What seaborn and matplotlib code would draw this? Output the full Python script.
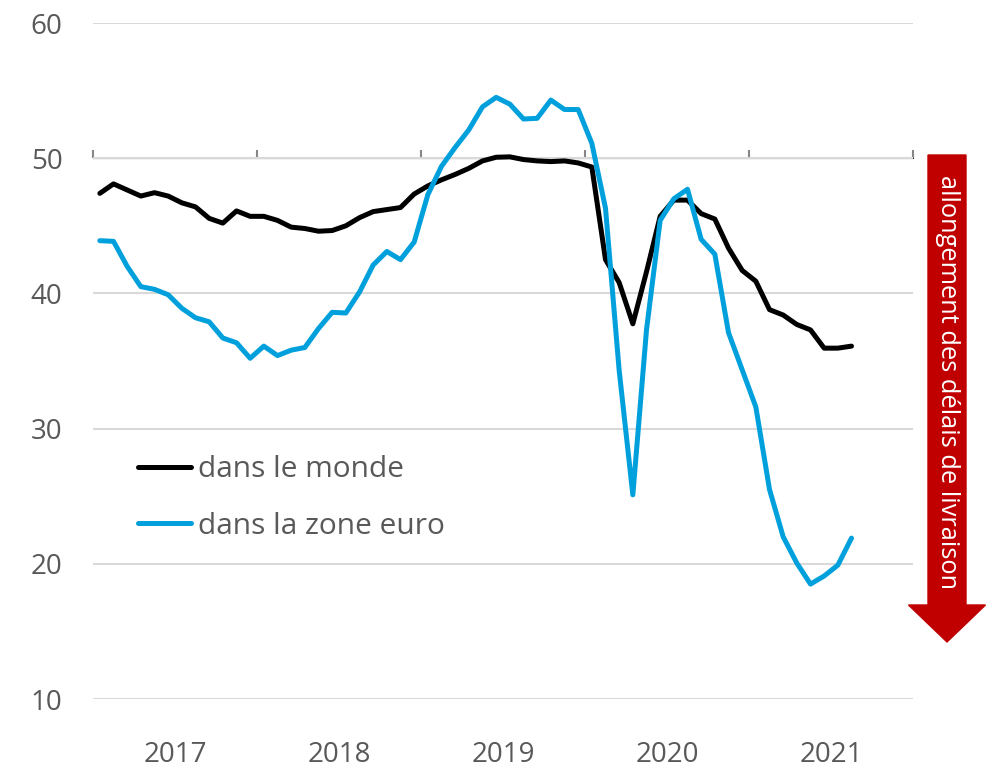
import pandas as pd
import matplotlib
matplotlib.use("Agg")
import matplotlib.pyplot as plt
import matplotlib.patches as mpatches
import seaborn as sns

# monthly series, Jan 2017 - Aug 2021
months = pd.date_range("2017-01-01", periods=56, freq="MS")

monde = [47.4, 48.1, 47.65, 47.2, 47.45, 47.2, 46.7, 46.4, 45.55, 45.2,
         46.1, 45.7, 45.7, 45.4, 44.9, 44.8, 44.6, 44.65, 45.0, 45.6,
         46.05, 46.2, 46.35, 47.35, 47.95, 48.4, 48.8, 49.25, 49.8, 50.07,
         50.1, 49.9, 49.8, 49.75, 49.8, 49.65, 49.35, 42.5, 40.8, 37.75,
         41.6, 45.7, 46.9, 46.9, 45.9, 45.5, 43.35, 41.7, 40.9, 38.8,
         38.4, 37.7, 37.3, 35.95, 35.95, 36.1]

zone_euro = [43.9, 43.85, 42.0, 40.5, 40.3, 39.9, 38.9, 38.2, 37.9, 36.7,
             36.35, 35.2, 36.1, 35.4, 35.8, 36.0, 37.4, 38.6, 38.55, 40.1,
             42.1, 43.1, 42.5, 43.8, 47.3, 49.4, 50.8, 52.1, 53.8, 54.5,
             54.0, 52.9, 52.95, 54.3, 53.6, 53.6, 51.1, 46.3, 34.3, 25.1,
             37.3, 45.4, 47.0, 47.7, 44.0, 42.9, 37.1, 34.35, 31.6, 25.5,
             22.0, 20.05, 18.5, 19.1, 19.9, 21.9]

series_names = ["dans le monde", "dans la zone euro"]
colors = ["#000000", "#00A0DC"]
years = [2017, 2018, 2019, 2020, 2021]
arrow_label = "allongement des délais de livraison"

# decimal year, points sit in the middle of each month
xpos = months.year + (months.month - 0.5) / 12

df = pd.concat([
    pd.DataFrame({"x": xpos, "val": monde, "serie": series_names[0]}),
    pd.DataFrame({"x": xpos, "val": zone_euro, "serie": series_names[1]}),
])

sns.set_style("white")
plt.rcParams["font.family"] = ["Open Sans", "DejaVu Sans"]
grey = "#595959"

fig = plt.figure(figsize=(9.95, 7.68), dpi=100)
ax = fig.add_axes([93 / 995, 69 / 768, 820 / 995, 676 / 768])

sns.lineplot(data=df, x="x", y="val", hue="serie", palette=colors,
             linewidth=3.6, ax=ax)

ax.set_xlim(years[0], years[-1] + 1)
ax.set_ylim(10, 60)
ax.set_yticks([10, 20, 30, 40, 50, 60])
ax.yaxis.grid(True, color="#D9D9D9", linewidth=1.5)
ax.set_axisbelow(True)
for s in ax.spines.values():
    s.set_visible(False)
ax.tick_params(axis="y", length=0, pad=22, labelsize=20, labelcolor=grey)

# year labels centred between the year boundaries
ax.set_xticks([y + 0.5 for y in years])
ax.set_xticklabels([str(y) for y in years])
ax.tick_params(axis="x", length=0, pad=30, labelsize=20, labelcolor=grey)
ax.set_xlabel("")
ax.set_ylabel("")

# category axis crossing at 50
sec = ax.secondary_xaxis(0.8)
sec.set_xticks(years + [years[-1] + 1])
sec.set_xticklabels([])
sec.spines["bottom"].set_color("#868686")
sec.spines["bottom"].set_linewidth(1.8)
sec.tick_params(axis="x", direction="out", length=6, width=1.5, color="#868686")

handles, labels = ax.get_legend_handles_labels()
ax.legend(handles, labels, loc="upper left", bbox_to_anchor=(0.022, 0.40),
          frameon=False, fontsize=21.5, labelcolor=grey, handlelength=1.77,
          handletextpad=0.25, labelspacing=0.92)

# red arrow on the right
arrow = mpatches.FancyArrow(9.47, 6.13, 0, -4.87, width=0.38, head_width=0.77,
                            head_length=0.37, length_includes_head=True,
                            color="#C00000", transform=fig.dpi_scale_trans)
fig.patches.append(arrow)
fig.text(9.47, 3.86, arrow_label, rotation=-90, color="white", fontsize=18.3,
         ha="center", va="center", transform=fig.dpi_scale_trans)

fig.savefig("out.png", dpi=100)
plt.close(fig)
